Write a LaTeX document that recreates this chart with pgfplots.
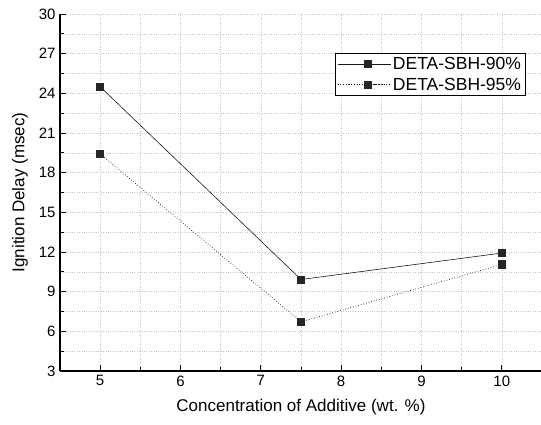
\documentclass[border=0pt]{standalone}
\usepackage{fontspec}
\setmainfont{Liberation Sans}
\usepackage{pgfplots}
\pgfplotsset{compat=1.18}

\begin{document}
\begin{tikzpicture}
  \useasboundingbox (-60pt,-53pt) rectangle (481pt,371pt);
  \begin{axis}[
      at={(0pt,0pt)}, anchor=south west,
      scale only axis,
      width=482pt, height=357pt,
      xmin=4.5, xmax=10.5,
      ymin=3, ymax=30,
      xtick={5,6,7,8,9,10},
      ytick={3,6,9,12,15,18,21,24,27,30},
      minor x tick num=1,
      minor y tick num=1,
      axis lines*=left,
      axis line style={-, line width=1.2pt},
      tick style={black, line width=1pt},
      major tick length=6pt,
      minor tick length=4pt,
      tick align=inside,
      grid=both,
      major grid style={gray!45, dotted, line width=0.6pt},
      minor grid style={gray!45, dotted, line width=0.6pt},
      ticklabel style={font=\fontsize{15}{16}\selectfont},
      xticklabel style={yshift=-1pt},
      yticklabel style={xshift=-1pt},
      /pgf/number format/assume math mode=true,
      xlabel={Concentration of Additive (wt. \%)},
      ylabel={Ignition Delay (msec)},
      xlabel style={yshift=-6pt},
      ylabel style={yshift=4pt},
      label style={font=\fontsize{17}{18}\selectfont},
      legend style={at={(0.5705,0.891)}, anchor=north west,
        font=\fontsize{17.5}{19}\selectfont, draw=black, line width=0.6pt,
        inner xsep=2pt, inner ysep=2pt, row sep=3pt},
      legend cell align=left,
      legend image code/.code={
        \path (0pt,0pt) -- (53pt,0pt);
        \draw[#1, mark=none] (11pt,0pt) -- (24pt,0pt);
        \draw[#1, mark=none] (36pt,0pt) -- (49pt,0pt);
        \draw[#1, only marks] plot coordinates {(30pt,0pt)};
      },
    ]
    \addplot[black!90, line width=0.6pt, mark=square*, mark size=3.6pt,
      mark options={solid, fill=black!85, draw=black!85}]
      coordinates {(5,24.5) (7.5,9.92) (10,11.92)};
    \addlegendentry{DETA-SBH-90\%}
    \addplot[black!90, line width=0.7pt, dotted, mark=square*, mark size=3.6pt,
      mark options={solid, fill=black!85, draw=black!85}]
      coordinates {(5,19.42) (7.5,6.72) (10,11.06)};
    \addlegendentry{DETA-SBH-95\%}
  \end{axis}
\end{tikzpicture}
\end{document}
